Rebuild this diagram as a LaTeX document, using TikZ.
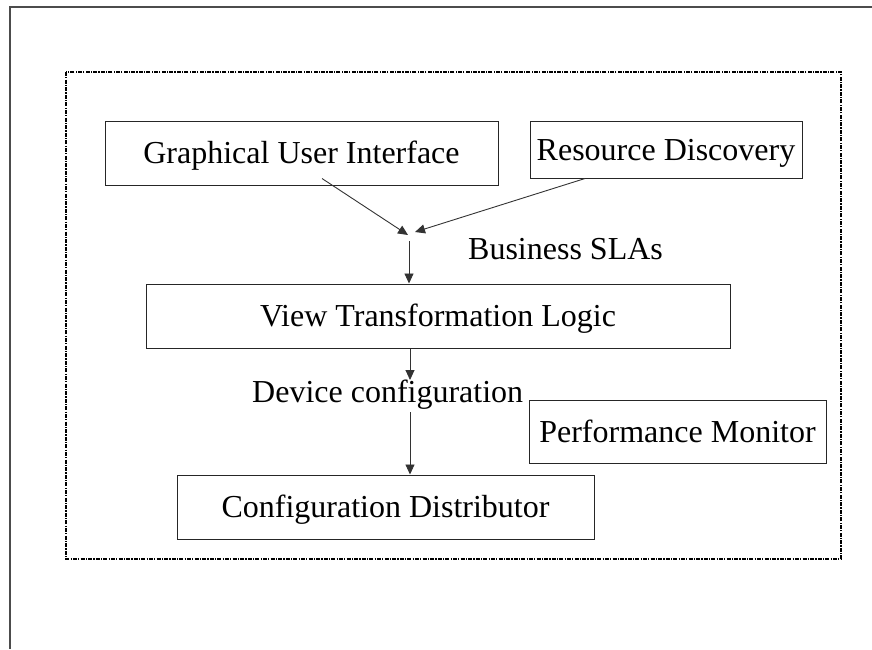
\documentclass[tikz,border=0pt]{standalone}
\usepackage{fontspec}
\setmainfont{Liberation Serif}
\usetikzlibrary{arrows.meta}

\begin{document}
\begin{tikzpicture}[x=1pt,y=-1pt,
  every node/.style={font=\fontsize{32}{38}\selectfont},
  box/.style={draw=black!85,line width=1pt,inner sep=0pt,
    text height=21pt,text depth=0pt,anchor=center},
  lbl/.style={inner sep=0pt,anchor=base west},
  flow/.style={draw=black!80,line width=0.9pt,
    -{Triangle[length=10pt,width=9pt]}},
  groupframe/.style={line width=2pt,
    dash pattern=on 4pt off 1.2pt on 1.2pt off 1.2pt},
  pageedge/.style={draw=black!70,line width=1.4pt}
]
\useasboundingbox (0,0) rectangle (872,649);

% page edge lines
\draw[pageedge] (872,7) -- (10,7) -- (10,649);

% dash-dotted grouping frame
\draw[groupframe] (66,72) rectangle (841,559);

% components
\node[box,minimum width=393pt,minimum height=64pt] (gui) at (301.5,153) {Graphical User Interface};
\node[box,minimum width=272pt,minimum height=57pt] (rd)  at (666,149.5) {Resource Discovery};
\node[box,minimum width=584pt,minimum height=64pt] (vtl) at (438,316) {View Transformation Logic};
\node[box,minimum width=297pt,minimum height=63pt] (pm)  at (677.5,431.5) {Performance Monitor};
\node[box,minimum width=417pt,minimum height=64pt] (cd)  at (385.5,507) {Configuration Distributor};

% labels
\node[lbl] (sla) at (468,259) {Business SLAs};
\node[lbl] (dev) at (252,402) {Device configuration};

% connector end points
\coordinate (guiout) at ([xshift=20.5pt,yshift=7pt]gui.south);
\coordinate (rdout)  at ([xshift=-81pt]rd.south);
\coordinate (mergeA) at (408,235);
\coordinate (mergeB) at (415,232);
\coordinate (mergeC) at (409,241);
\coordinate (vtlout) at ([xshift=-28pt]vtl.south);
\coordinate (devtop) at (410,380);
\coordinate (devbot) at (410,412);

% connectors
\draw[flow] (guiout) -- (mergeA);
\draw[flow] (rdout) -- (mergeB);
\draw[flow] (mergeC) -- (mergeC |- vtl.north);
\draw[flow] (vtlout) -- (devtop);
\draw[flow] (devbot) -- (devbot |- cd.north);
\end{tikzpicture}
\end{document}
